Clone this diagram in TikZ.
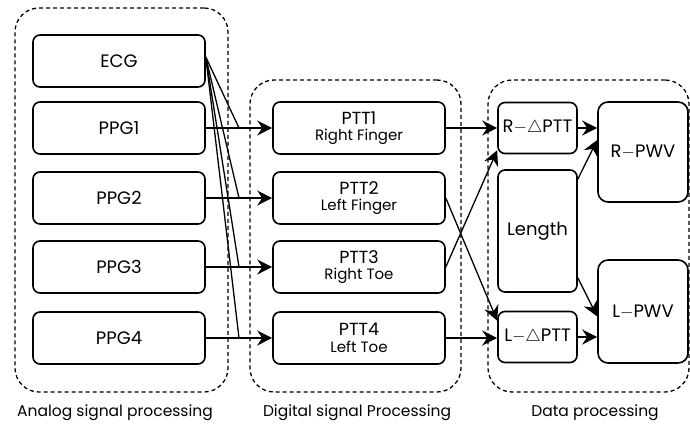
\documentclass[tikz,border=0pt]{standalone}
\usepackage{fontspec}
\setmainfont{Poppins}
\usepackage{tikz}
\usetikzlibrary{arrows.meta, positioning, calc}

\begin{document}
\begin{tikzpicture}[
	x=1pt, y=-1pt,
	>={Stealth[length=15pt, width=15pt, inset=5pt]},
	group/.style={draw, dashed, dash pattern=on 4pt off 3pt, line width=1.3pt, rounded corners=24pt},
	block/.style={draw, line width=1.6pt, rounded corners=7pt, minimum width=172pt, minimum height=52pt, font=\fontsize{18}{20}\selectfont},
	ptt/.style={block, align=center, font=\fontsize{17.5}{17.5}\selectfont},
	small/.style={block, minimum width=79pt, minimum height=51pt, inner sep=1pt},
	pwv/.style={block, minimum width=90pt, minimum height=100pt, rounded corners=10pt},
	caption/.style={font=\fontsize{15.5}{18}\selectfont},
	link/.style={line width=1.3pt}
	]
	\useasboundingbox (0,0) rectangle (690,428);
	
	% Groups
	\node[group, minimum width=213pt, minimum height=384pt] (analog) at (121.5,200) {};
	\node[group, minimum width=211pt, minimum height=312pt] (digital) at (355.5,236) {};
	\node[group, minimum width=201pt, minimum height=312pt] (data) at (588.5,236) {};
	
	% Analog signals
	\node[block] (ECG) at (119,61) {ECG};
	\node[block] (PPG1) at (119,128) {PPG1};
	\node[block] (PPG2) at (119,198) {PPG2};
	\node[block] (PPG3) at (119,267) {PPG3};
	\node[block] (PPG4) at (119,338) {PPG4};
	
	% Pulse transit times
	\node[ptt] (PTT1) at (359,128) {PTT1\\[-1pt]{\fontsize{15}{17}\selectfont Right Finger}};
	\node[ptt] (PTT2) at (359,198) {PTT2\\[-1pt]{\fontsize{15}{17}\selectfont Left Finger}};
	\node[ptt] (PTT3) at (359,267) {PTT3\\[-1pt]{\fontsize{15}{17}\selectfont Right Toe}};
	\node[ptt] (PTT4) at (359,338) {PTT4\\[-1pt]{\fontsize{15}{17}\selectfont Left Toe}};
	
	% Data processing
	\node[small] (RdPTT) at (537.5,128) {R$-\triangle$PTT};
	\node[small, minimum height=122pt] (Length) at (537.5,231) {Length};
	\node[small] (LdPTT) at (537.5,337) {L$-\triangle$PTT};
	\node[pwv] (RPWV) at (643,152) {R$-$PWV};
	\node[pwv, minimum height=103pt] (LPWV) at (643,311.5) {L$-$PWV};
	
	% Captions
	\node[caption] (capA) at (115,413) {Analog signal processing};
	\node[caption] (capD) at (357,413) {Digital signal Processing};
	\node[caption] (capP) at (595,413) {Data processing};
	
	% Analog -> digital
	\foreach \i in {1,...,4} {
		\draw[link, ->] (PPG\i) -- (PTT\i);
		\draw[link] ([yshift=4pt]ECG.east) -- ($(PPG\i.east)!.5!(PTT\i.west)$);
	}
	
	% Digital -> data
	\draw[link, ->] (PTT1.east) -- (PTT1.east -| RdPTT.west);
	\draw[link, ->] (PTT3.east) -- ([yshift=4pt]RdPTT.south west);
	\draw[link, ->] (PTT2.east) -- ([yshift=-10pt]LdPTT.north west);
	\draw[link, ->] (PTT4.east) -- (PTT4.east -| LdPTT.west);
	
	% Velocities
	\draw[link, ->] (RdPTT.east) -- (RdPTT.east -| RPWV.west);
	\draw[link, ->] ([yshift=-10pt]Length.north east) -- ([yshift=12pt]RPWV.west);
	\draw[link, ->] ([yshift=15pt]Length.south east) -- ([yshift=-5pt]LPWV.west);
	\draw[link, ->] (LdPTT.east) -- (LdPTT.east -| LPWV.west);
	
\end{tikzpicture}
\end{document}
